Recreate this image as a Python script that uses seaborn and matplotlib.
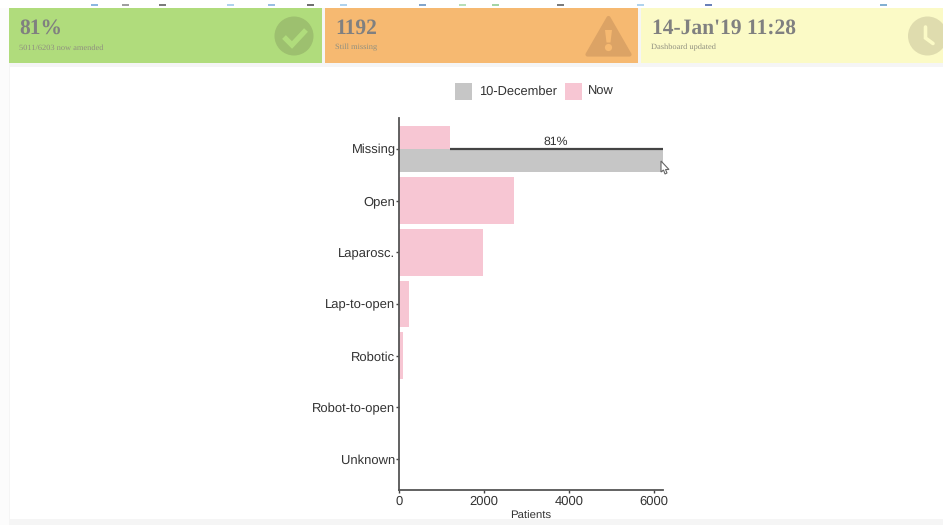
import pandas as pd
import seaborn as sns
import matplotlib.pyplot as plt
from matplotlib.patches import Rectangle, Circle, Polygon

categories = ["Missing", "Open", "Laparosc.", "Lap-to-open", "Robotic", "Robot-to-open", "Unknown"]
now_values = [1192, 2700, 1985, 230, 90, 6, 3]
december_missing = 6203
pct_label = "81%"
x_ticks = [0, 2000, 4000, 6000]

GREY = "#c6c6c6"
PINK = "#f7c6d3"
W, H = 943, 525

sns.set_theme(style="ticks")
plt.rcParams["font.family"] = ["Liberation Sans", "DejaVu Sans"]
plt.rcParams["text.hinting"] = "none"

fig = plt.figure(figsize=(W / 100, H / 100), dpi=100, facecolor="#f5f5f5")

# page layer in pixel coords, y pointing down
bg = fig.add_axes([0, 0, 1, 1], zorder=0)
bg.set_xlim(0, W)
bg.set_ylim(H, 0)
bg.axis("off")

bg.add_patch(Rectangle((0, 0), W, 8, color="white", lw=0))
bg.add_patch(Rectangle((0, 8), 9, H, color="#fcfcfc", lw=0))
bg.add_patch(Rectangle((10, 67), W, 452, color="white", lw=0))

# scraps of the browser bar cut off at the top
for xp, c in [(94, "#5b9bd5"), (125, "#777777"), (162, "#444444"), (230, "#8fc1e8"), (271, "#6fa5d8"),
              (310, "#333333"), (343, "#8fc1e8"), (422, "#4f7fb5"), (462, "#9ad29a"), (495, "#7fc47f"),
              (560, "#444444"), (640, "#8fc1e8"), (708, "#2a4b9b"), (883, "#4f8fc0")]:
    bg.add_patch(Rectangle((xp - 3.5, 4), 7, 2, color=c, lw=0, alpha=0.7))

# cards
cards = [
    (9, 313, "#b0dc7c", "81%", "5011/6203 now amended"),
    (325, 313, "#f6b971", "1192", "Still missing"),
    (641, 302, "#fbfac6", "14-Jan'19 11:28", "Dashboard updated"),
]
for x0, w, col, big, small in cards:
    bg.add_patch(Rectangle((x0, 8), w, 55, color=col, lw=0))
    bg.text(x0 + 10.5, 28, big, family="Liberation Serif", weight="bold", fontsize=15.5,
            color="#808080", va="center", ha="left")
    bg.text(x0 + 10, 47.5, small, family="Liberation Serif", fontsize=6, color="#909080", va="center", ha="left")

# check icon
bg.add_patch(Circle((294, 36), 19.5, color="#9dc06f", lw=0))
bg.plot([284, 292, 306], [37, 45, 30], color="#b0dc7c", lw=3.8, solid_capstyle="butt", solid_joinstyle="miter")

# warning icon
bg.add_patch(Polygon([[608.5, 18], [629.5, 54.5], [587.5, 54.5]], closed=True, color="#dca365", ec="#dca365",
                     lw=3, joinstyle="round"))
bg.add_patch(Polygon([[605, 30], [612, 30], [610.5, 42.5], [606.5, 42.5]], closed=True, color="#f6b971", lw=0))
bg.add_patch(Circle((608.5, 47.5), 3.6, color="#f6b971", lw=0))

# clock icon
bg.add_patch(Circle((927.5, 36), 19.5, color="#dfdcae", lw=0))
bg.plot([925.5, 925.5, 933], [27, 38, 43.5], color="#fbfac6", lw=2.6, solid_joinstyle="miter")

# chart
ax = fig.add_axes([399 / W, 1 - 490 / H, 263.6 / W, 372 / H], zorder=1)
ax.patch.set_alpha(0)

now_rows = pd.DataFrame({"category": categories[1:], "patients": now_values[1:]})
missing_rows = pd.DataFrame({
    "category": ["Missing", "Missing"],
    "patients": [now_values[0], december_missing],
    "when": ["Now", "10-December"],
})

sns.barplot(data=now_rows, y="category", x="patients", order=categories, color=PINK,
            saturation=1, width=0.9, linewidth=0, ax=ax)
sns.barplot(data=missing_rows, y="category", x="patients", order=categories, hue="when",
            hue_order=["Now", "10-December"], palette={"Now": PINK, "10-December": GREY},
            saturation=1, width=0.9, linewidth=0, legend=False, ax=ax)

# bracket between the two Missing bars
ax.plot([now_values[0], december_missing], [0, 0], color="#444444", lw=1.6, solid_capstyle="butt", zorder=5)
ax.text((now_values[0] + december_missing) / 2, -0.03, pct_label, ha="center", va="bottom",
        fontsize=8.8, color="#333333")

ax.set_xlim(0, december_missing)
ax.set_ylim(6.6, -0.6)
ax.set_xticks(x_ticks)
ax.set_xlabel("Patients", fontsize=8.2, color="#333333", labelpad=2.5)
ax.set_ylabel("")
ax.tick_params(axis="x", labelsize=9.4, labelcolor="#333333", color="#444444", length=2.5, width=1, pad=1.5)
ax.tick_params(axis="y", labelsize=9.4, labelcolor="#333333", color="#444444", length=2, width=1, pad=0.5)
sns.despine(ax=ax)
for side in ["left", "bottom"]:
    ax.spines[side].set_color("#555555")
    ax.spines[side].set_linewidth(1.3)

# legend keys and labels placed by hand like the html one
bg.add_patch(Rectangle((455, 83), 17, 17, color=GREY, lw=0))
bg.text(479, 92, "10-December", fontsize=9.3, color="#333333", va="center", ha="left")
bg.add_patch(Rectangle((565, 83), 17, 17, color=PINK, lw=0))
bg.text(588, 92, "Now", fontsize=9.3, color="#333333", va="center", ha="left")

# mouse pointer left in the screenshot
top = fig.add_axes([0, 0, 1, 1], zorder=2)
top.set_xlim(0, W)
top.set_ylim(H, 0)
top.axis("off")
top.add_patch(Polygon([[661, 161], [661, 172], [663.5, 170], [665, 174], [667, 173], [665.5, 169.5], [669, 169.5]],
                      closed=True, fc="white", ec="#666666", lw=0.8))

fig.savefig("out.png", dpi=100, facecolor=fig.get_facecolor())
